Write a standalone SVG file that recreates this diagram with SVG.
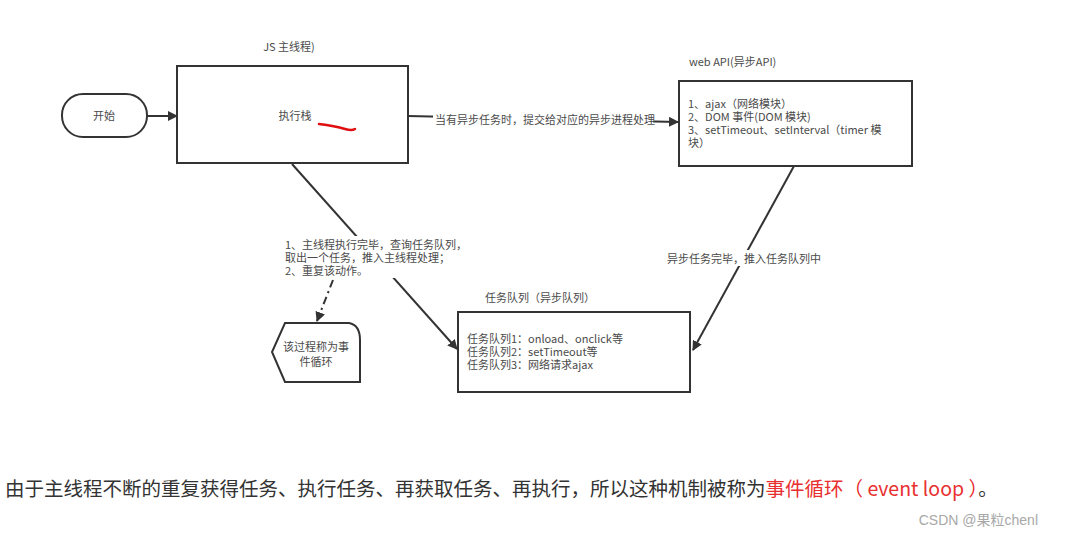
<svg xmlns="http://www.w3.org/2000/svg" width="1078" height="537" viewBox="0 0 1078 537">
<defs>
<style>
.t{font-family:"Noto Sans CJK SC","Noto Sans",sans-serif;fill:#4a4a4a;font-size:11px}
.b{fill:#fff;stroke:#333;stroke-width:2}
.c{stroke:#333;stroke-width:2;fill:none}
.big{font-family:"Noto Sans CJK SC","Noto Sans",sans-serif;font-size:19.5px;fill:#333}
</style>
<marker id="ah" viewBox="0 0 10 10" refX="9" refY="5" markerWidth="10" markerHeight="10" markerUnits="userSpaceOnUse" orient="auto">
<path d="M0,0 L10,5 L0,10 z" fill="#333"/>
</marker>
</defs>
<rect width="1078" height="537" fill="#fff"/>

<g id="connectors">
<line class="c" x1="147" y1="116" x2="177" y2="116" marker-end="url(#ah)"/>
<line class="c" x1="408" y1="116" x2="678" y2="122" marker-end="url(#ah)"/>
<line class="c" x1="292" y1="164" x2="457" y2="349" marker-end="url(#ah)"/>
<line class="c" x1="794" y1="166" x2="693" y2="350" marker-end="url(#ah)"/>
<line class="c" x1="333" y1="280" x2="317" y2="321" stroke-dasharray="8,4,2,4" marker-end="url(#ah)"/>
<rect x="433" y="110" width="220" height="16" fill="#fff"/>
<rect x="282" y="236" width="185" height="42" fill="#fff"/>
<rect x="666" y="250" width="154" height="16" fill="#fff"/>
<text class="t" x="435" y="124">当有异步任务时，提交给对应的异步进程处理</text>
<text class="t"><tspan x="285" y="249">1、主线程执行完毕，查询任务队列，</tspan><tspan x="285" y="262">取出一个任务，推入主线程处理；</tspan><tspan x="285" y="275">2、重复该动作。</tspan></text>
<text class="t" x="667" y="263">异步任务完毕，推入任务队列中</text>
</g>

<g id="start">
<rect class="b" x="62" y="94" width="85" height="43" rx="21"/>
<text class="t" x="104" y="120" text-anchor="middle" font-size="12">开始</text>
</g>

<g id="main-thread">
<text class="t" x="289" y="51" text-anchor="middle">JS 主线程)</text>
<rect class="b" x="177" y="66" width="231" height="97"/>
<text class="t" x="295" y="120" text-anchor="middle" font-size="12">执行栈</text>
<path d="M319,124 Q335,126 345,129 Q352,131 355,129" stroke="#e01010" stroke-width="2.5" fill="none" stroke-linecap="round"/>
</g>

<g id="web-api">
<text class="t" x="689" y="66">web API(异步API)</text>
<rect class="b" x="679" y="81" width="233" height="85"/>
<text class="t"><tspan x="688" y="108">1、ajax（网络模块）</tspan><tspan x="688" y="121">2、DOM 事件(DOM 模块)</tspan><tspan x="688" y="134">3、setTimeout、setInterval（timer 模</tspan><tspan x="688" y="147">块）</tspan></text>
</g>

<g id="task-queue">
<text class="t" x="485" y="302">任务队列（异步队列）</text>
<rect class="b" x="458" y="312" width="232" height="80"/>
<text class="t"><tspan x="467" y="343">任务队列1：onload、onclick等</tspan><tspan x="467" y="356">任务队列2：setTimeout等</tspan><tspan x="467" y="369">任务队列3：网络请求ajax</tspan></text>
</g>

<g id="event-loop">
<path class="b" d="M285,323 L349,323 Q360,325 360,340 L360,382 L285,382 L272,352 Z"/>
<text class="t" text-anchor="middle"><tspan x="316" y="351">该过程称为事</tspan><tspan x="316" y="366">件循环</tspan></text>
</g>

<text class="big" x="5" y="496">由于主线程不断的重复获得任务、执行任务、再获取任务、再执行，所以这种机制被称为<tspan fill="#e83030">事件循环（ event loop ）</tspan>。</text>
<text x="1038" y="525" text-anchor="end" font-family="'Liberation Sans','Noto Sans CJK SC',sans-serif" font-size="14" fill="#a8a8a8">CSDN @果粒chenl</text>
</svg>
